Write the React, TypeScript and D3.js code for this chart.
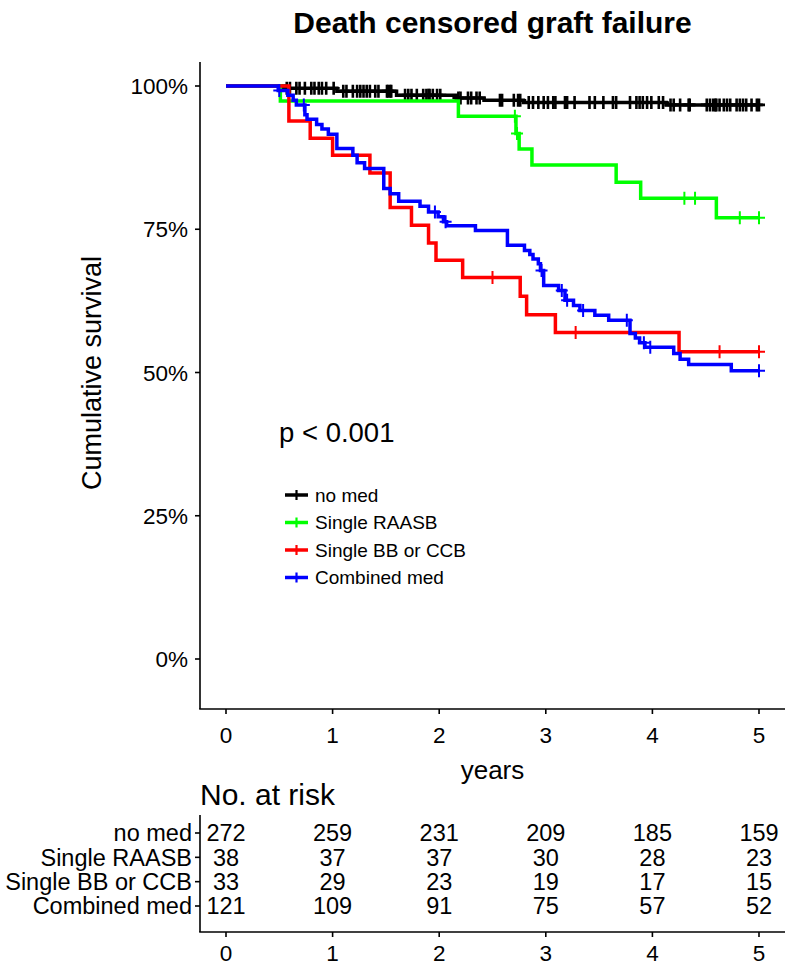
import React, { useRef, useLayoutEffect } from "react";
import * as d3 from "d3";

// groups, colours and numbers at risk
const groups = ["no med", "Single RAASB", "Single BB or CCB", "Combined med"];
const colors = ["#000000", "#00ff00", "#ff0000", "#0000ff"];
const riskYears = [0, 1, 2, 3, 4, 5];
const riskNoMed = [272, 259, 231, 209, 185, 159];
const riskRaasb = [38, 37, 37, 30, 28, 23];
const riskBbCcb = [33, 29, 23, 19, 17, 15];
const riskCombined = [121, 109, 91, 75, 57, 52];

// Kaplan-Meier steps (years, % survival)
const noMedTimes = [0, 0.55, 1.04, 1.6, 2.16, 2.42, 2.79, 4.13, 5.0];
const noMedSurv = [100, 99.6, 99.1, 98.4, 97.9, 97.5, 97.1, 96.7, 96.7];
const noMedCensor = [
  0.57, 0.6, 0.66, 0.69, 0.74, 0.8, 0.83, 0.87, 0.9, 0.94, 1.01, 1.1, 1.13,
  1.19, 1.23, 1.26, 1.29, 1.32, 1.35, 1.4, 1.43, 1.51, 1.52, 1.54, 1.55, 1.68,
  1.71, 1.74, 1.79, 1.85, 1.88, 1.9, 1.91, 1.94, 1.98, 2.01, 2.18, 2.2, 2.27,
  2.3, 2.35, 2.38, 2.57, 2.59, 2.7, 2.74, 2.76, 2.84, 2.88, 2.93, 2.98, 3.02,
  3.07, 3.09, 3.18, 3.2, 3.27, 3.41, 3.46, 3.54, 3.63, 3.66, 3.79, 3.85, 3.88,
  3.91, 3.95, 3.99, 4.06, 4.1, 4.17, 4.2, 4.26, 4.34, 4.35, 4.51, 4.54, 4.57,
  4.59, 4.6, 4.63, 4.67, 4.7, 4.73, 4.79, 4.82, 4.85, 4.88, 4.93, 4.98, 5.0,
];

const raasbTimes = [0, 0.51, 2.18, 2.72, 2.75, 2.87, 3.66, 3.89, 4.6, 5.0];
const raasbSurv = [100, 97.4, 94.7, 91.7, 89.0, 86.2, 83.2, 80.4, 77.0, 77.0];
const raasbCensor = [2.71, 2.73, 4.3, 4.4, 4.82, 5.0];

const bbCcbTimes = [
  0, 0.59, 0.79, 1.0, 1.35, 1.54, 1.74, 1.9, 1.97, 2.22, 2.76, 2.82, 3.09, 4.25,
  5.0,
];
const bbCcbSurv = [
  100, 93.9, 90.9, 87.9, 84.8, 78.8, 75.7, 72.6, 69.6, 66.6, 63.3, 60.1, 57.0,
  53.6, 53.6,
];
const bbCcbCensor = [2.5, 3.28, 4.63, 5.0];

const combinedTimes = [
  0, 0.49, 0.58, 0.63, 0.66, 0.74, 0.76, 0.85, 0.9, 0.96, 1.04, 1.19, 1.23,
  1.3, 1.48, 1.54, 1.62, 1.82, 1.9, 1.99, 2.04, 2.07, 2.34, 2.64, 2.8, 2.85,
  2.88, 2.93, 2.95, 2.98, 3.12, 3.18, 3.26, 3.32, 3.46, 3.59, 3.79, 3.84, 3.88,
  3.93, 4.2, 4.26, 4.34, 4.74, 5.0,
];
const combinedSurv = [
  100, 99.2, 98.4, 97.5, 96.7, 95.0, 94.2, 93.3, 92.5, 91.6, 89.1, 87.9, 86.6,
  85.6, 82.1, 81.2, 79.9, 79.0, 78.0, 77.2, 76.3, 75.6, 74.8, 72.2, 71.3, 70.6,
  69.8, 69.0, 67.8, 65.2, 64.3, 62.6, 61.7, 60.8, 60.0, 59.1, 56.8, 56.0, 55.2,
  54.4, 53.3, 52.3, 51.4, 50.3, 50.3,
];
const combinedCensor = [
  0.5, 0.73, 1.96, 2.06, 2.96, 3.15, 3.2, 3.35, 3.76, 3.92, 3.98, 5.0,
];

const yTicks = [0, 25, 50, 75, 100];

export default function App() {
  const ref = useRef<SVGSVGElement>(null);

  useLayoutEffect(() => {
    const svg = d3.select(ref.current);
    svg.selectAll("*").remove();
    const font = "'Liberation Sans', Arial, sans-serif";

    const series = [
      { times: noMedTimes, surv: noMedSurv, censor: noMedCensor },
      { times: raasbTimes, surv: raasbSurv, censor: raasbCensor },
      { times: bbCcbTimes, surv: bbCcbSurv, censor: bbCcbCensor },
      { times: combinedTimes, surv: combinedSurv, censor: combinedCensor },
    ];
    const riskRows = [riskNoMed, riskRaasb, riskBbCcb, riskCombined];

    const left = 200;
    const right = 785;
    const x = d3.scaleLinear().domain([0, 5]).range([226, 759]);
    const y = d3.scaleLinear().domain([0, 100]).range([659, 86]);
    const plotTop = 62;
    const plotBottom = 709;

    // title
    svg
      .append("text")
      .attr("x", (left + right) / 2)
      .attr("y", 33)
      .attr("text-anchor", "middle")
      .attr("font-family", font)
      .attr("font-weight", "bold")
      .attr("font-size", 30)
      .text("Death censored graft failure");

    // axes
    const axisG = svg.append("g").attr("stroke", "#000").attr("stroke-width", 1.6);
    axisG
      .append("line")
      .attr("x1", left)
      .attr("x2", left)
      .attr("y1", plotTop)
      .attr("y2", plotBottom);
    axisG
      .append("line")
      .attr("x1", left - 0.8)
      .attr("x2", right)
      .attr("y1", plotBottom)
      .attr("y2", plotBottom);

    yTicks.forEach((v) => {
      axisG
        .append("line")
        .attr("x1", left - 5)
        .attr("x2", left)
        .attr("y1", y(v))
        .attr("y2", y(v));
      svg
        .append("text")
        .attr("x", left - 12)
        .attr("y", y(v))
        .attr("dy", "0.36em")
        .attr("text-anchor", "end")
        .attr("font-family", font)
        .attr("font-size", 22.5)
        .text(`${v}%`);
    });

    riskYears.forEach((t) => {
      axisG
        .append("line")
        .attr("x1", x(t))
        .attr("x2", x(t))
        .attr("y1", plotBottom)
        .attr("y2", plotBottom + 5);
      svg
        .append("text")
        .attr("x", x(t))
        .attr("y", 743)
        .attr("text-anchor", "middle")
        .attr("font-family", font)
        .attr("font-size", 22.5)
        .text(t);
    });

    svg
      .append("text")
      .attr("x", (left + right) / 2)
      .attr("y", 779)
      .attr("text-anchor", "middle")
      .attr("font-family", font)
      .attr("font-size", 26)
      .text("years");

    svg
      .append("text")
      .attr("transform", `translate(101, 373) rotate(-90)`)
      .attr("text-anchor", "middle")
      .attr("font-family", font)
      .attr("font-size", 27)
      .text("Cumulative survival");

    // curves
    const line = d3
      .line<[number, number]>()
      .x((d) => x(d[0]))
      .y((d) => y(d[1]))
      .curve(d3.curveStepAfter);

    const survAt = (times: number[], surv: number[], t: number) => {
      const i = d3.bisectRight(times, t) - 1;
      return surv[Math.max(0, i)];
    };

    series.forEach((s, gi) => {
      const pts = s.times.map((t, i) => [t, s.surv[i]] as [number, number]);
      const g = svg.append("g");
      g.append("path")
        .attr("d", line(pts))
        .attr("fill", "none")
        .attr("stroke", colors[gi])
        .attr("stroke-width", 3.5);
      const cw = gi === 0 ? 2.6 : 2;
      g.selectAll("path.cens")
        .data(s.censor)
        .join("path")
        .attr("class", "cens")
        .attr("d", (t) => {
          const cx = x(t);
          const cy = y(survAt(s.times, s.surv, t));
          return `M${cx},${cy - 6.5}V${cy + 6.5}M${cx - 6},${cy}H${cx + 6}`;
        })
        .attr("stroke", colors[gi])
        .attr("stroke-width", cw)
        .attr("fill", "none");
    });

    // p-value
    svg
      .append("text")
      .attr("x", 279)
      .attr("y", 442)
      .attr("font-family", font)
      .attr("font-size", 27.5)
      .text("p < 0.001");

    // legend
    groups.forEach((name, i) => {
      const cy = 495 + i * 27.5;
      const lg = svg.append("g");
      lg.append("line")
        .attr("x1", 285)
        .attr("x2", 308)
        .attr("y1", cy)
        .attr("y2", cy)
        .attr("stroke", colors[i])
        .attr("stroke-width", 3.5);
      lg.append("line")
        .attr("x1", 296.5)
        .attr("x2", 296.5)
        .attr("y1", cy - 5)
        .attr("y2", cy + 5)
        .attr("stroke", colors[i])
        .attr("stroke-width", 2.2);
      lg.append("text")
        .attr("x", 315)
        .attr("y", cy)
        .attr("dy", "0.36em")
        .attr("font-family", font)
        .attr("font-size", 19)
        .text(name);
    });

    // risk table
    const tTop = 815;
    const tBottom = 932;
    const rowY = d3.scalePoint<number>().domain([0, 1, 2, 3]).range([833, 906]);

    svg
      .append("text")
      .attr("x", left)
      .attr("y", 805)
      .attr("font-family", font)
      .attr("font-size", 30)
      .text("No. at risk");

    const tg = svg.append("g").attr("stroke", "#000").attr("stroke-width", 1.6);
    tg.append("line")
      .attr("x1", left)
      .attr("x2", left)
      .attr("y1", tTop)
      .attr("y2", tBottom);
    tg.append("line")
      .attr("x1", left - 0.8)
      .attr("x2", right)
      .attr("y1", tBottom)
      .attr("y2", tBottom);

    riskRows.forEach((row, ri) => {
      const ry = rowY(ri) as number;
      tg.append("line")
        .attr("x1", left - 5)
        .attr("x2", left)
        .attr("y1", ry)
        .attr("y2", ry);
      svg
        .append("text")
        .attr("x", left - 8)
        .attr("y", ry)
        .attr("dy", "0.36em")
        .attr("text-anchor", "end")
        .attr("font-family", font)
        .attr("font-size", 23.5)
        .text(groups[ri]);
      row.forEach((n, j) => {
        svg
          .append("text")
          .attr("x", x(riskYears[j]))
          .attr("y", ry)
          .attr("dy", "0.36em")
          .attr("text-anchor", "middle")
          .attr("font-family", font)
          .attr("font-size", 23.5)
          .text(n);
      });
    });

    riskYears.forEach((t) => {
      tg.append("line")
        .attr("x1", x(t))
        .attr("x2", x(t))
        .attr("y1", tBottom)
        .attr("y2", tBottom + 5);
      svg
        .append("text")
        .attr("x", x(t))
        .attr("y", 961)
        .attr("text-anchor", "middle")
        .attr("font-family", font)
        .attr("font-size", 22.5)
        .text(t);
    });
  }, []);

  return (
    <svg
      ref={ref}
      width={787}
      height={971}
      style={{ position: "absolute", left: 0, top: 0, background: "#fff", display: "block" }}
    />
  );
}
